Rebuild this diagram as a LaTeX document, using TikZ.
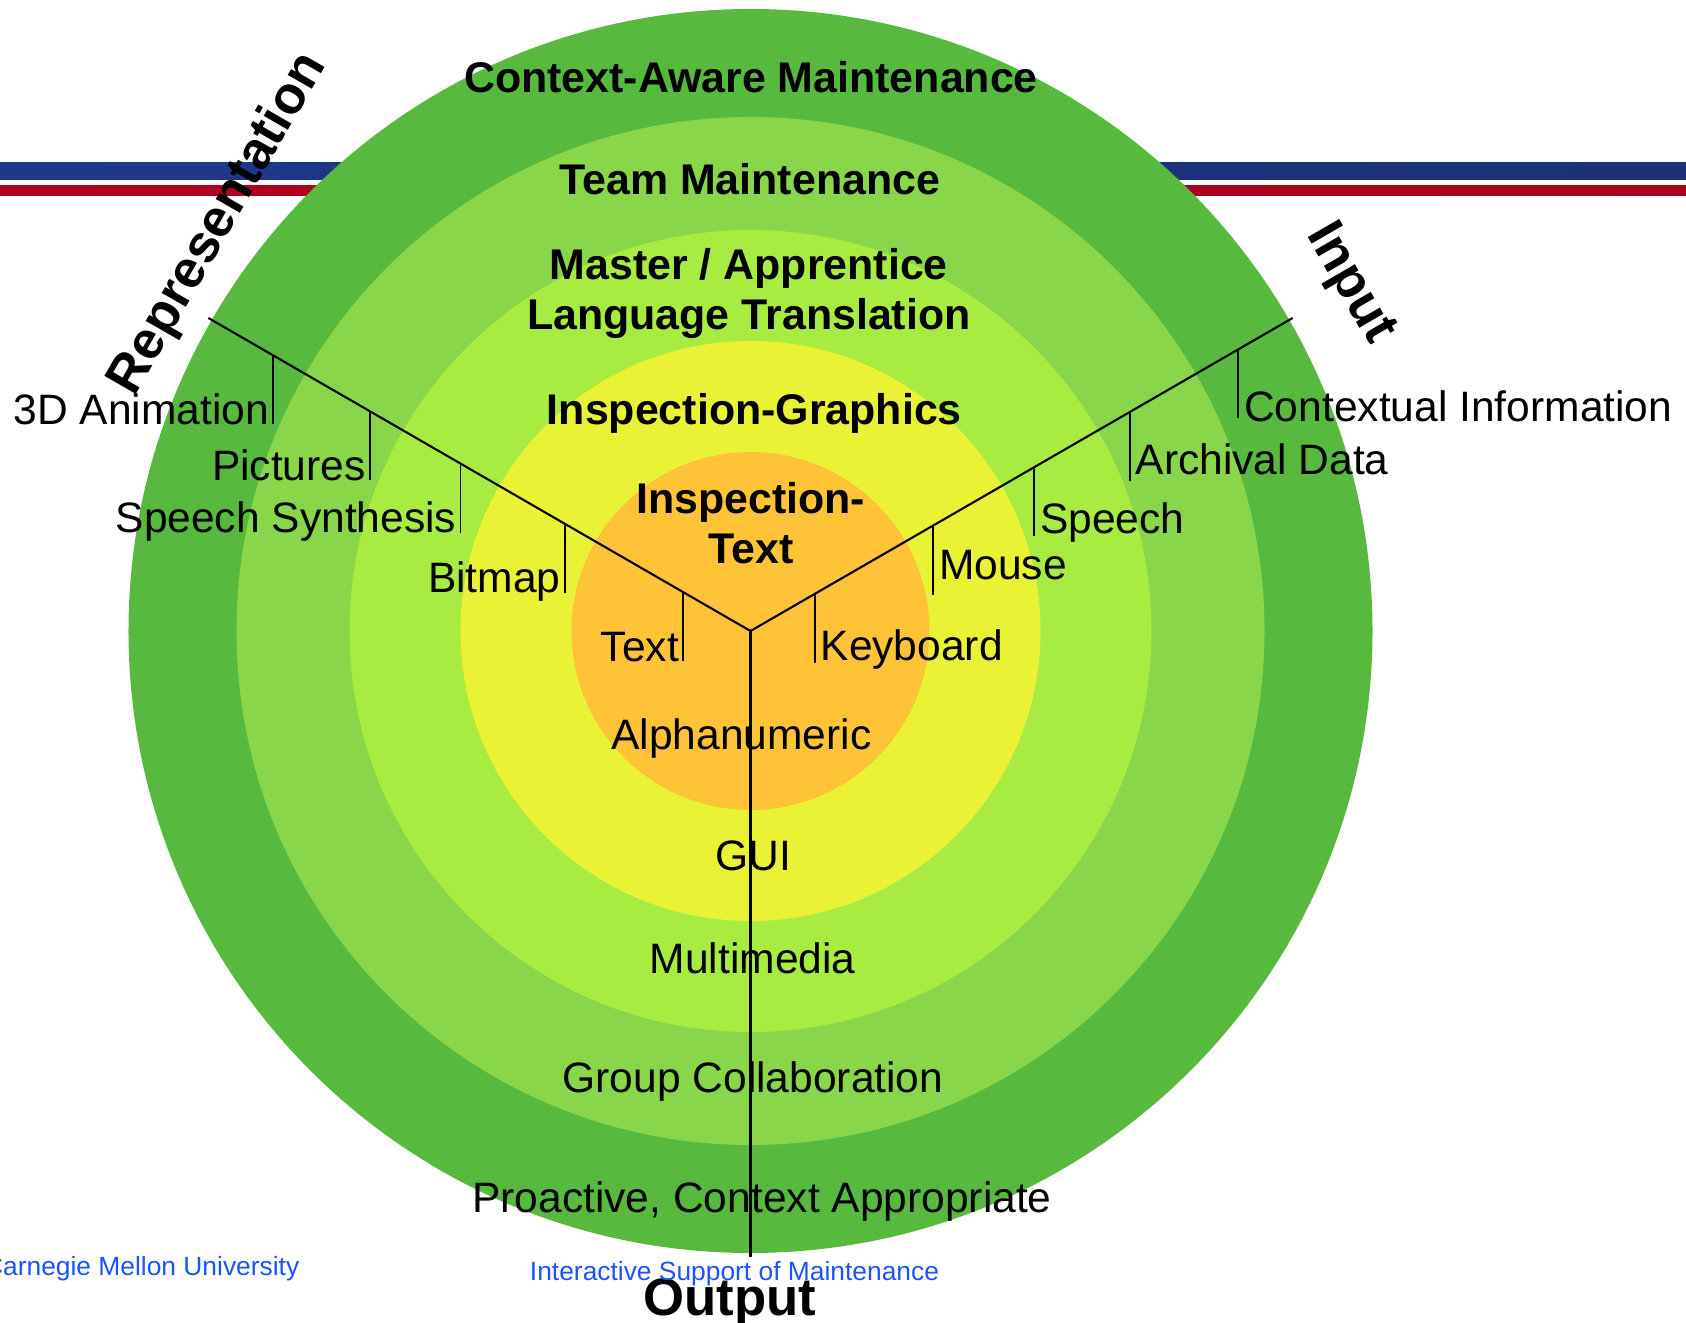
\documentclass[tikz,border=0pt]{standalone}
\usepackage{fontspec}
\setmainfont{Liberation Sans}
\usetikzlibrary{calc}

\definecolor{ringA}{RGB}{87,186,62}
\definecolor{ringB}{RGB}{138,214,74}
\definecolor{ringC}{RGB}{168,236,66}
\definecolor{ringD}{RGB}{234,242,54}
\definecolor{ringE}{RGB}{255,195,55}
\definecolor{blueL}{RGB}{30,56,140}
\definecolor{blueM}{RGB}{45,90,214}
\definecolor{blueR}{RGB}{27,48,118}
\definecolor{redL}{RGB}{178,0,32}
\definecolor{redM}{RGB}{226,0,36}
\definecolor{redR}{RGB}{168,0,30}
\definecolor{footblue}{RGB}{26,83,255}

\begin{document}
\begin{tikzpicture}[x=0.01cm,y=0.01cm]
	\tikzstyle{every node}=[inner sep=1pt,font=\fontsize{12.1pt}{14pt}\selectfont]
	\tikzstyle{ring title}=[anchor=base,font=\fontsize{12.2pt}{14pt}\selectfont\bfseries]
	\tikzstyle{ring label}=[anchor=base]
	\tikzstyle{axis title}=[font=\fontsize{15pt}{18pt}\selectfont\bfseries]
	\tikzstyle{axis}=[line width=0.6pt]
	\tikzstyle{tick}=[line width=0.5pt]
	\tikzstyle{footer}=[anchor=base,inner sep=0pt,text=footblue,font=\fontsize{7.5pt}{9pt}\selectfont]
	\useasboundingbox (-750.5,-691) rectangle (935.5,631);
	% header stripes
	\shade[left color=blueL,middle color=blueM,right color=blueR] (-750.5,451.5) rectangle (935.5,468);
	\shade[left color=redL,middle color=redM,right color=redR] (-750.5,435.5) rectangle (935.5,445);
	% rings
	\coordinate (c) at (0,0);
	\foreach \r/\col in {622/ringA,514/ringB,401/ringC,290/ringD,179/ringE}
		\fill[\col] (c) circle[radius=\r];
	% axes
	\coordinate (rep) at (150:626);
	\coordinate (inp) at (30:626);
	\coordinate (out) at (270:626);
	\draw[axis] (rep) -- (c) -- (inp);
	\draw[axis] (c) -- (out);
	\foreach \d/\txt [count=\i] in {77.7/Text,214.5/Bitmap,334.9/Speech Synthesis,439.4/Pictures,551/3D Animation}{
		\coordinate (l\i) at (150:\d);
		\coordinate (lb\i) at ($(l\i)+(0,-69)$);
		\draw[tick] (l\i) -- (lb\i);
		\node[anchor=base east] (ltxt\i) at (lb\i) {\txt};
	}
	\foreach \d/\txt/\dy [count=\i] in {74.1/Keyboard/2,210.9/Mouse/15,327.6/Speech/3,437.8/Archival Data/7,563.2/Contextual Information/-3}{
		\coordinate (r\i) at (30:\d);
		\coordinate (rb\i) at ($(r\i)+(0,-69)$);
		\draw[tick] (r\i) -- (rb\i);
		\node[anchor=base west,inner xsep=1.5pt] (rtxt\i) at ($(rb\i)+(0,\dy)$) {\txt};
	}
	% ring names
	\node[ring title] (aware) at (0.5,538.5) {Context-Aware Maintenance};
	\node[ring title] (team) at (-0.8,436.4) {Team Maintenance};
	\node[ring title] (master) at (-1.7,351) {Master / Apprentice};
	\node[ring title] (lang) at (-1.7,301) {Language Translation};
	\node[ring title] (graphics) at (3.8,206) {Inspection-Graphics};
	\node[ring title] (insp) at (0.3,117.7) {Inspection-};
	\node[ring title] (insptext) at (0.3,67.7) {Text};
	\node[ring label] (alpha) at (-9.1,-118.5) {Alphanumeric};
	\node[ring label] (gui) at (3.1,-239) {GUI};
	\node[ring label] (multi) at (2.2,-342) {Multimedia};
	\node[ring label] (group) at (2.5,-461.5) {Group Collaboration};
	\node[ring label] (proactive) at (11.5,-581) {Proactive, Context Appropriate};
	% axis names
	\node[axis title,rotate=60] (reptitle) at (-532,407) {Representation};
	\node[axis title,rotate=-60] (inptitle) at (599,347) {Input};
	\node[axis title,anchor=base] (outtitle) at (-20.5,-684) {Output};
	% footer
	\node[footer,anchor=base east] (cmu) at (-450.5,-644.3) {Carnegie Mellon University};
	\node[footer] (isom) at (-16,-649) {Interactive Support of Maintenance};
\end{tikzpicture}
\end{document}
